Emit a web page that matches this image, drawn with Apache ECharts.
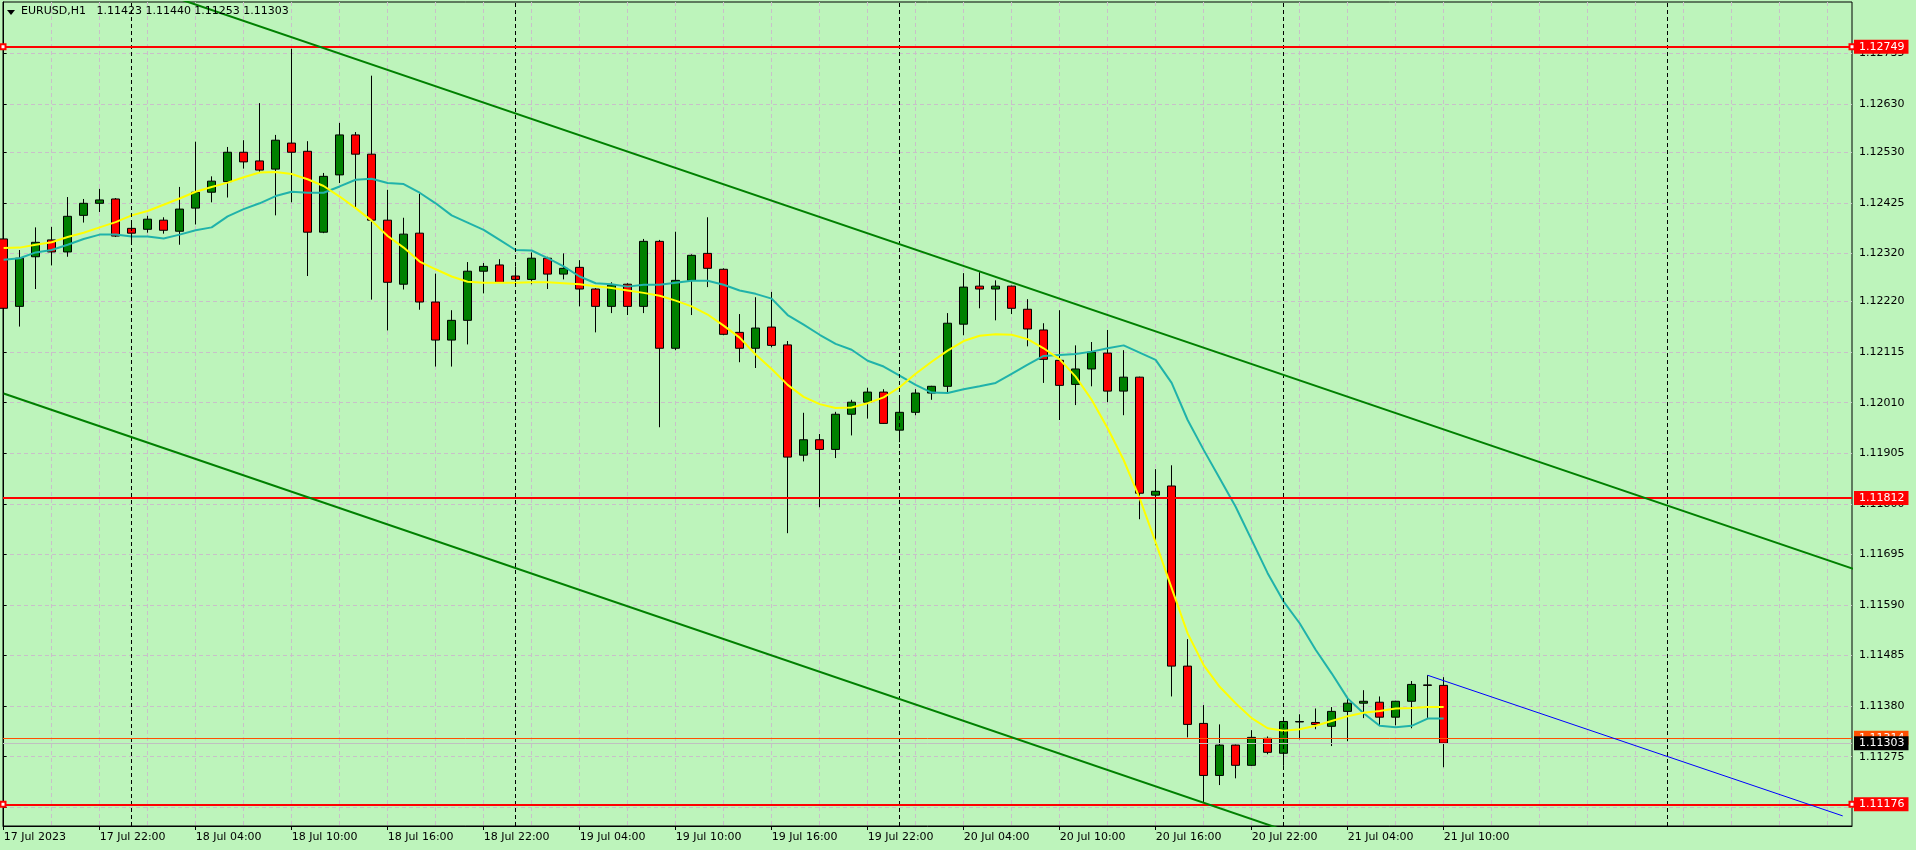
<!DOCTYPE html>
<html><head><meta charset="utf-8">
<script src="https://cdn.jsdelivr.net/npm/echarts@6/dist/echarts.min.js"></script>
<style>html,body{margin:0;padding:0;background:#bdf4bb;overflow:hidden}#c{width:1916px;height:850px}</style>
</head><body><div id="c"></div>
<script>
// ---------- data ----------
const symbolName = 'EURUSD';
const timeframe = 'H1';
const startHour = 16; // first bar = 17 Jul 2023 16:00, one bar per hour

const open = [
1.12350,1.12210,1.12313,1.12348,1.12323,1.12399,1.12424,1.12433,1.12372,1.12370,
1.12389,1.12366,1.12414,1.12447,1.12469,1.12530,1.12512,1.12495,1.12549,1.12532,
1.12364,1.12483,1.12566,1.12526,1.12389,1.12256,1.12362,1.12219,1.12140,1.12181,
1.12283,1.12296,1.12273,1.12266,1.12310,1.12277,1.12291,1.12246,1.12210,1.12256,
1.12210,1.12345,1.12123,1.12264,1.12320,1.12287,1.12156,1.12123,1.12167,1.12130,
1.11901,1.11933,1.11913,1.11986,1.12011,1.12032,1.11953,1.11990,1.12030,1.12044,
1.12173,1.12252,1.12246,1.12252,1.12204,1.12161,1.12098,1.12048,1.12080,1.12113,
1.12034,1.12063,1.11818,1.11837,1.11463,1.11344,1.11236,1.11299,1.11257,1.11313,
1.11282,1.11347,1.11346,1.11338,1.11369,1.11386,1.11388,1.11357,1.11390,1.11424,
1.11423];
const high = [
1.12363,1.12327,1.12374,1.12375,1.12437,1.12433,1.12454,1.12435,1.12381,1.12398,
1.12395,1.12458,1.12552,1.12480,1.12541,1.12555,1.12632,1.12566,1.12745,1.12553,
1.12487,1.12591,1.12572,1.12689,1.12452,1.12394,1.12444,1.12278,1.12202,1.12302,
1.12300,1.12308,1.12293,1.12322,1.12313,1.12320,1.12306,1.12248,1.12260,1.12258,
1.12350,1.12348,1.12365,1.12318,1.12395,1.12289,1.12194,1.12229,1.12240,1.12138,
1.11989,1.11945,1.11991,1.12016,1.12041,1.12038,1.12019,1.12038,1.12045,1.12196,
1.12279,1.12281,1.12264,1.12253,1.12225,1.12175,1.12202,1.12129,1.12136,1.12161,
1.12119,1.12064,1.11872,1.11880,1.11519,1.11382,1.11342,1.11300,1.11330,1.11317,
1.11349,1.11363,1.11375,1.11378,1.11398,1.11413,1.11400,1.11391,1.11432,1.11444,
1.11440];
const low = [
1.12199,1.12168,1.12246,1.12295,1.12313,1.12384,1.12406,1.12354,1.12338,1.12363,
1.12361,1.12338,1.12380,1.12426,1.12436,1.12496,1.12489,1.12399,1.12426,1.12273,
1.12362,1.12466,1.12414,1.12224,1.12160,1.12245,1.12203,1.12085,1.12085,1.12131,
1.12237,1.12259,1.12258,1.12256,1.12246,1.12266,1.12210,1.12156,1.12196,1.12192,
1.12196,1.11959,1.12119,1.12192,1.12250,1.12150,1.12094,1.12082,1.12125,1.11739,
1.11888,1.11793,1.11895,1.11942,1.11977,1.11966,1.11928,1.11984,1.12016,1.12032,
1.12150,1.12206,1.12181,1.12194,1.12127,1.12051,1.11974,1.12005,1.12044,1.12011,
1.11984,1.11768,1.11714,1.11400,1.11315,1.11179,1.11216,1.11230,1.11256,1.11280,
1.11256,1.11311,1.11332,1.11297,1.11307,1.11355,1.11340,1.11340,1.11334,1.11355,
1.11253];
const close = [
1.12206,1.12310,1.12343,1.12323,1.12397,1.12424,1.12431,1.12356,1.12362,1.12391,
1.12368,1.12412,1.12447,1.12470,1.12530,1.12510,1.12493,1.12555,1.12530,1.12364,
1.12480,1.12566,1.12526,1.12389,1.12260,1.12360,1.12219,1.12140,1.12181,1.12283,
1.12293,1.12260,1.12266,1.12310,1.12277,1.12289,1.12246,1.12210,1.12254,1.12210,
1.12345,1.12123,1.12264,1.12316,1.12289,1.12152,1.12123,1.12165,1.12129,1.11897,
1.11933,1.11913,1.11986,1.12011,1.12032,1.11967,1.11990,1.12030,1.12044,1.12175,
1.12250,1.12246,1.12252,1.12206,1.12163,1.12100,1.12046,1.12080,1.12115,1.12034,
1.12063,1.11822,1.11826,1.11463,1.11342,1.11236,1.11299,1.11257,1.11315,1.11284,
1.11348,1.11348,1.11342,1.11369,1.11386,1.11390,1.11357,1.11390,1.11425,1.11423,
1.11303];

const maYellow = [
1.12331,1.12332,1.12338,1.12343,1.12354,1.12363,1.12374,1.12385,1.12399,1.12408,
1.12421,1.12434,1.12448,1.12458,1.12467,1.12478,1.12488,1.12489,1.12485,1.12474,
1.12460,1.12438,1.12414,1.12388,1.12356,1.12332,1.12303,1.12287,1.12272,1.12261,
1.12259,1.12259,1.12259,1.12260,1.12260,1.12258,1.12256,1.12252,1.12248,1.12243,
1.12238,1.12232,1.12222,1.12210,1.12193,1.12170,1.12145,1.12110,1.12080,1.12047,
1.12022,1.12007,1.11999,1.12000,1.12009,1.12021,1.12042,1.12070,1.12095,1.12118,
1.12138,1.12149,1.12152,1.12151,1.12142,1.12123,1.12100,1.12064,1.12016,1.11957,
1.11891,1.11812,1.11720,1.11625,1.11531,1.11465,1.11420,1.11386,1.11355,1.11334,
1.11329,1.11332,1.11339,1.11349,1.11359,1.11366,1.11370,1.11375,1.11376,1.11378,
1.11378];
const maTeal = [
1.12307,1.12310,1.12322,1.12327,1.12338,1.12350,1.12359,1.12359,1.12355,1.12355,
1.12351,1.12359,1.12368,1.12374,1.12397,1.12412,1.12424,1.12439,1.12448,1.12446,
1.12446,1.12459,1.12473,1.12475,1.12466,1.12464,1.12446,1.12424,1.12399,1.12384,
1.12369,1.12348,1.12327,1.12326,1.12310,1.12293,1.12272,1.12258,1.12256,1.12251,
1.12255,1.12255,1.12259,1.12263,1.12263,1.12255,1.12243,1.12236,1.12226,1.12192,
1.12172,1.12151,1.12132,1.12120,1.12097,1.12085,1.12066,1.12047,1.12031,1.12030,
1.12038,1.12044,1.12051,1.12070,1.12089,1.12107,1.12109,1.12111,1.12116,1.12123,
1.12129,1.12114,1.12099,1.12051,1.11974,1.11912,1.11853,1.11794,1.11725,1.11656,
1.11597,1.11552,1.11497,1.11448,1.11396,1.11365,1.11339,1.11336,1.11339,1.11354,
1.11354];

const xTickLabels = ['17 Jul 2023','17 Jul 22:00','18 Jul 04:00','18 Jul 10:00','18 Jul 16:00',
  '18 Jul 22:00','19 Jul 04:00','19 Jul 10:00','19 Jul 16:00','19 Jul 22:00','20 Jul 04:00',
  '20 Jul 10:00','20 Jul 16:00','20 Jul 22:00','21 Jul 04:00','21 Jul 10:00'];
const xTickStep = 6;   // bars between time labels
const xGridStep = 3;   // bars between vertical grid lines
const yTickValues = [1.12735,1.12630,1.12530,1.12425,1.12320,1.12220,1.12115,1.12010,
  1.11905,1.11800,1.11695,1.11590,1.11485,1.11380,1.11275,1.11170];

const levelsMarked = [1.12749, 1.11176];   // selected horizontal lines
const levelsPlain = [1.11812];
const askPrice = 1.11314;
const bidPrice = close[close.length - 1];
const upperChannel = [[11, 1.12848], [115.6, 1.11665]];
const lowerChannel = [[0, 1.12029], [85, 1.11066]];
const projectionLine = [[89, 1.11444], [114.94, 1.11152]];

const yMin = 1.11131, yMax = 1.12842;
const xMin = -0.04, xMax = 115.5225;
const visibleBars = 116;

// ---------- build ----------
const FONT = 'DejaVu Sans';
const GRIDC = '#c9bfc9';
const n = open.length;
const candleData = open.map((o, i) => [i, o, close[i], low[i], high[i]]);
const labelBars = xTickLabels.map((_, i) => i * xTickStep);
const gridBars = [];
for (let k = 0; k < visibleBars; k += xGridStep) gridBars.push(k);
const separators = [];
for (let k = 0; k < visibleBars; k++) if ((startHour + k) % 24 === 0) separators.push(k);
const f5 = v => Number(v).toFixed(5);
const last = n - 1;

const chart = echarts.init(document.getElementById('c'), null, {renderer: 'canvas'});
const priceLabel = (bg, fg) => ({
  show: true, position: 'end', distance: 2, formatter: p => f5(p.value),
  backgroundColor: bg, color: fg, fontSize: 11, fontFamily: FONT,
  padding: [2, 4, 1, 5], lineHeight: 11
});
const hLine = (values, color, width, bg, fg, symbols, z) => ({
  type: 'line', data: [], z: z, silent: true,
  markLine: {silent: true, precision: 5, symbol: symbols, symbolSize: 5,
    lineStyle: {color: color, width: width, type: 'solid'},
    label: priceLabel(bg, fg), data: values.map(v => ({yAxis: v}))}
});
chart.setOption({
  animation: false,
  backgroundColor: '#bdf4bb',
  title: {
    text: symbolName + ',' + timeframe + '   ' + [open[last], high[last], low[last], close[last]].map(f5).join(' '),
    left: 21, top: 6, padding: 0,
    textStyle: {fontSize: 11, fontWeight: 'normal', color: '#000', fontFamily: FONT}
  },
  graphic: [{type: 'polygon', shape: {points: [[7, 10], [15, 10], [11, 15]]}, style: {fill: '#000'}}],
  grid: {left: 3, right: 64, top: 2, bottom: 24, show: true, borderColor: '#000', borderWidth: 1, backgroundColor: '#bdf4bb'},
  xAxis: [{
    type: 'value', min: xMin, max: xMax,
    axisLine: {show: true, lineStyle: {color: '#000', width: 1}},
    axisTick: {show: true, length: 4, customValues: labelBars, lineStyle: {color: '#000'}},
    axisLabel: {customValues: labelBars, formatter: v => xTickLabels[Math.round(v / xTickStep)] || '',
      align: 'left', margin: 6, color: '#000', fontSize: 11, fontFamily: FONT},
    splitLine: {show: false}
  }, {
    type: 'value', min: xMin, max: xMax, position: 'bottom',
    axisLine: {show: false}, axisLabel: {show: false},
    axisTick: {show: false, customValues: gridBars},
    splitLine: {show: true, lineStyle: {color: GRIDC, width: 1, type: [4, 3]}}
  }],
  yAxis: {
    type: 'value', position: 'right', min: yMin, max: yMax, scale: true,
    axisLine: {show: true, lineStyle: {color: '#000'}},
    axisTick: {show: true, length: 3, customValues: yTickValues, lineStyle: {color: '#000'}},
    axisLabel: {customValues: yTickValues, formatter: v => f5(v), margin: 7, color: '#000', fontSize: 11, fontFamily: FONT},
    splitLine: {show: true, lineStyle: {color: GRIDC, width: 1, type: [4, 3]}}
  },
  series: [
    {type: 'line', data: [], z: 1, silent: true,
      markLine: {silent: true, symbol: ['none', 'none'], label: {show: false},
        lineStyle: {color: '#000', width: 1, type: [4, 3]},
        data: separators.map(k => ({xAxis: k}))}},
    {type: 'candlestick', data: candleData, encode: {x: 0, y: [1, 2, 3, 4]}, barWidth: 9, z: 2, silent: true,
      itemStyle: {color: '#008000', color0: '#ff0000', borderColor: '#000', borderColor0: '#000', borderWidth: 1}},
    {type: 'line', data: maTeal.map((v, i) => [i, v]), showSymbol: false, symbol: 'none', z: 3, silent: true,
      lineStyle: {color: '#20b2aa', width: 2}},
    {type: 'line', data: maYellow.map((v, i) => [i, v]), showSymbol: false, symbol: 'none', z: 4, silent: true,
      lineStyle: {color: '#ffff00', width: 2}},
    {type: 'line', xAxisIndex: 1, data: upperChannel, symbol: 'none', z: 5, silent: true, lineStyle: {color: '#008000', width: 2}},
    {type: 'line', xAxisIndex: 1, data: lowerChannel, symbol: 'none', z: 5, silent: true, lineStyle: {color: '#008000', width: 2}},
    {type: 'line', xAxisIndex: 1, data: projectionLine, symbol: 'none', z: 5, silent: true, lineStyle: {color: '#0000ff', width: 1}},
    hLine(levelsPlain, '#ff0000', 2, '#ff0000', '#ffffff', ['none', 'none'], 6),
    hLine(levelsMarked, '#ff0000', 2, '#ff0000', '#ffffff', ['emptyRect', 'emptyRect'], 6),
    hLine([askPrice], '#ff4f00', 1, '#ff4f00', '#ffffff', ['none', 'none'], 6),
    hLine([bidPrice], '#c0c0c0', 1, '#000000', '#ffffff', ['none', 'none'], 7)
  ]
});
</script></body></html>
